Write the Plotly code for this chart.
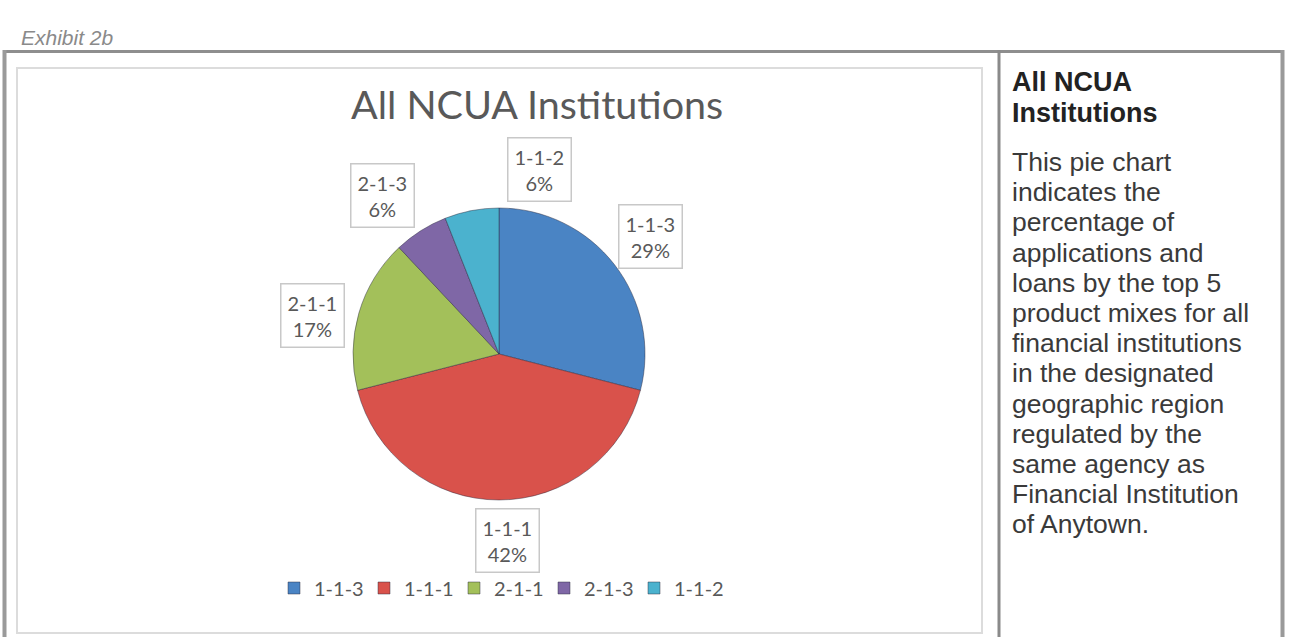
import math
import plotly.graph_objects as go

# ---- data ----
categories = ["1-1-3", "1-1-1", "2-1-1", "2-1-3", "1-1-2"]
shares = [29, 42, 17, 6, 6]
slice_colors = ["#4A84C4", "#D9524B", "#A3C05A", "#7F67A6", "#4BB2CE"]
chart_title = "All NCUA Institutions"
exhibit_label = "Exhibit 2b"
side_title = ["All NCUA", "Institutions"]
side_body = [
    "This pie chart",
    "indicates the",
    "percentage of",
    "applications and",
    "loans by the top 5",
    "product mixes for all",
    "financial institutions",
    "in the designated",
    "geographic region",
    "regulated by the",
    "same agency as",
    "Financial Institution",
    "of Anytown.",
]
# label nudges (pixels) relative to the radial position
label_nudge = {"1-1-3": (0, 0), "1-1-1": (8, -6), "2-1-1": (-2, 15),
               "2-1-3": (-14, 4), "1-1-2": (76, 4)}

W, H = 1291, 637


def px(x):
    return x / W


def py(y):
    return 1 - y / H


cx, cy, r = 499, 354, 146

fig = go.Figure()
fig.add_trace(go.Pie(
    labels=categories,
    values=shares,
    sort=False,
    direction="clockwise",
    rotation=0,
    textinfo="none",
    hoverinfo="label+percent",
    marker=dict(colors=slice_colors, line=dict(color="rgba(40,40,60,0.45)", width=1)),
    domain=dict(x=[px(cx - r), px(cx + r)], y=[py(cy + r), py(cy - r)]),
    showlegend=True,
))

annotations = []
# data labels with boxes, positioned from the slice mid-angles
total = sum(shares)
cum = 0
R = 192
for cat, v in zip(categories, shares):
    mid = (cum + v / 2) / total * 2 * math.pi
    cum += v
    dx, dy = label_nudge.get(cat, (0, 0))
    lx = cx + R * math.sin(mid) + dx
    ly = cy - R * math.cos(mid) + dy
    annotations.append(dict(
        x=px(lx), y=py(ly), xref="paper", yref="paper",
        text=f"{cat}<br>{round(v / total * 100)}%",
        showarrow=False, align="center",
        font=dict(family="Lato", size=20, color="#595959"),
        bgcolor="white", bordercolor="#c8c8c8", borderwidth=1.5, borderpad=6,
        xanchor="center", yanchor="middle",
    ))

# chart title
annotations.append(dict(
    x=px(537), y=py(104), xref="paper", yref="paper", text=chart_title,
    showarrow=False, xanchor="center", yanchor="middle",
    font=dict(family="Lato", size=39.5, color="#595959"),
))
# exhibit label
annotations.append(dict(
    x=px(19), y=py(38), xref="paper", yref="paper", text=f"<i>{exhibit_label}</i>",
    showarrow=False, xanchor="left", yanchor="middle",
    font=dict(family="Liberation Sans", size=21, color="#8a8a8a"),
))
# side panel
side_lines = [(t, True) for t in side_title] + [(t, False) for t in side_body]
ys = [82, 113] + [162 + 30.2 * i for i in range(len(side_body))]
for (t, bold), yy in zip(side_lines, ys):
    annotations.append(dict(
        x=px(1010), y=py(yy), xref="paper", yref="paper",
        text=f"<b>{t}</b>" if bold else t,
        showarrow=False, xanchor="left", yanchor="middle",
        font=dict(family="Liberation Sans", size=27 if bold else 26.5,
                  color="#222222" if bold else "#3a3a3a"),
    ))

shapes = [
    # outer frame
    dict(type="line", xref="paper", yref="paper", x0=px(3), x1=px(1284), y0=py(51.5), y1=py(51.5),
         line=dict(color="#8e8e8e", width=3)),
    dict(type="line", xref="paper", yref="paper", x0=px(4.5), x1=px(4.5), y0=py(50), y1=py(640),
         line=dict(color="#9a9a9a", width=4)),
    dict(type="line", xref="paper", yref="paper", x0=px(1282.5), x1=px(1282.5), y0=py(50), y1=py(640),
         line=dict(color="#9a9a9a", width=4)),
    dict(type="line", xref="paper", yref="paper", x0=px(999), x1=px(999), y0=py(50), y1=py(640),
         line=dict(color="#8a8a8a", width=3)),
    # inner chart area
    dict(type="rect", xref="paper", yref="paper", x0=px(17), x1=px(982), y0=py(68), y1=py(633),
         line=dict(color="#dcdcdc", width=2)),
]

fig.update_layout(
    width=W, height=H, autosize=False,
    margin=dict(l=0, r=0, t=0, b=0),
    paper_bgcolor="white", plot_bgcolor="white",
    annotations=annotations, shapes=shapes,
    legend=dict(
        orientation="h", x=px(274), y=py(588), xanchor="left", yanchor="middle",
        font=dict(family="Lato", size=20, color="#595959"),
        entrywidth=45, entrywidthmode="pixels", itemwidth=30,
        bgcolor="rgba(0,0,0,0)",
    ),
)

fig.write_html(
    "out.html",
    config={"displayModeBar": False},
    post_script="document.body.style.margin='0';document.body.style.overflow='hidden';",
)
